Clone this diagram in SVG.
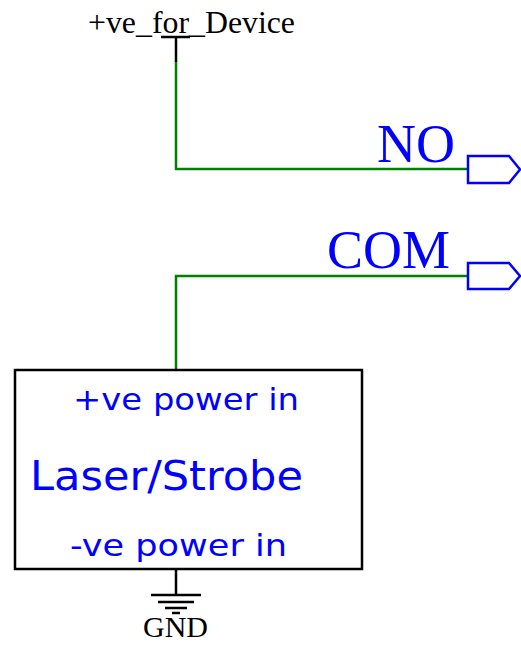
<svg xmlns="http://www.w3.org/2000/svg" width="521" height="646" viewBox="0 0 521 646">
<style>
.wire{stroke:#008000;stroke-width:2.5;fill:none}
.blk{stroke:#000;stroke-width:2.5;fill:none}
.port{stroke:#0000ff;stroke-width:2.5;fill:#fff}
.serif{font-family:"Liberation Serif","Times New Roman",serif}
.sans{font-family:"DejaVu Sans",Verdana,sans-serif;fill:#0000ff}
.lbl{fill:#0000ff;font-size:54px}
</style>
<rect width="521" height="646" fill="#fff"/>
<g id="connectors">
<path class="blk" d="M161 37H190M176 37V62"/>
<path class="wire" d="M176 62V169H468"/>
<path class="wire" d="M468 276H176V369"/>
</g>
<g id="vcc">
<text class="serif" x="88" y="33" font-size="31.5" textLength="207" lengthAdjust="spacingAndGlyphs">+ve_for_Device</text>
</g>
<g id="port-no">
<text class="serif lbl" x="377" y="162">NO</text>
<path class="port" d="M468 156H509L520 169.5L509 183H468Z"/>
</g>
<g id="port-com">
<text class="serif lbl" x="327" y="268">COM</text>
<path class="port" d="M468 263H509L520 276L509 289H468Z"/>
</g>
<g id="laser">
<rect x="15" y="370" width="347" height="199" fill="#fff" stroke="#000" stroke-width="2.5"/>
<text class="sans" x="73" y="410" font-size="31" textLength="226" lengthAdjust="spacingAndGlyphs">+ve power in</text>
<text class="sans" x="30" y="490" font-size="41" textLength="273" lengthAdjust="spacingAndGlyphs">Laser/Strobe</text>
<text class="sans" x="70" y="556" font-size="31" textLength="217" lengthAdjust="spacingAndGlyphs">-ve power in</text>
</g>
<g id="gnd">
<path class="blk" d="M176 569V595M151 595H201M158 602H194M165 608H187M172 613H180"/>
<text class="serif" x="143" y="637" font-size="29.5" textLength="65" lengthAdjust="spacingAndGlyphs">GND</text>
</g>
</svg>
